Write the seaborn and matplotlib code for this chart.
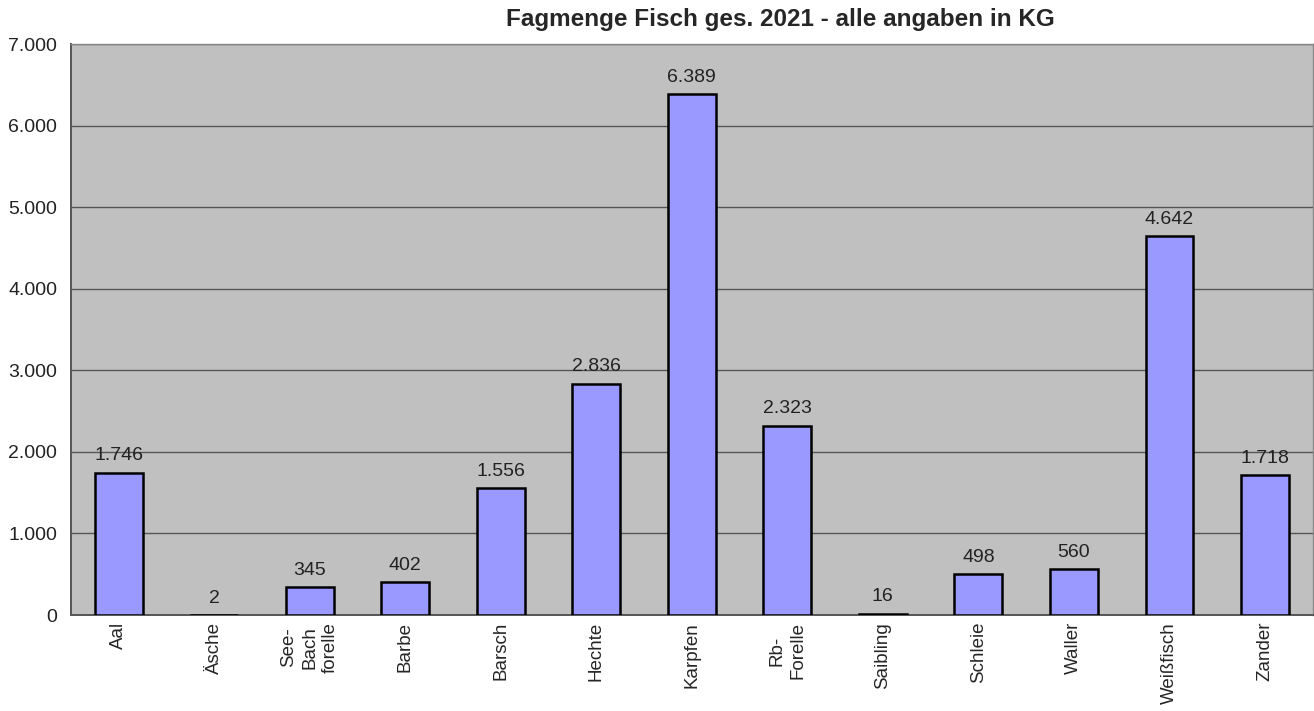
import pandas as pd
import seaborn as sns
from matplotlib import pyplot as plt
from matplotlib.ticker import FuncFormatter, FixedLocator

fish = ['Aal', 'Äsche', 'See-\nBach\nforelle', 'Barbe', 'Barsch', 'Hechte', 'Karpfen',
        'Rb-\nForelle', 'Saibling', 'Schleie', 'Waller', 'Weißfisch', 'Zander']
kg = [1746, 2, 345, 402, 1556, 2836, 6389, 2323, 16, 498, 560, 4642, 1718]
yticks = [0, 1000, 2000, 3000, 4000, 5000, 6000, 7000]

def de_fmt(v):
	return f'{int(round(v)):,}'.replace(',', '.')

df = pd.DataFrame({'fish': fish, 'kg': kg})

sns.set_style('white')
plt.rcParams['font.family'] = ['Liberation Sans', 'DejaVu Sans']

fig = plt.figure(figsize=(13.14, 7.11), dpi=100)
ax = fig.add_axes([0.054, 0.135, 0.945, 0.803])
ax.set_facecolor('#C0C0C0')

sns.barplot(data=df, x='fish', y='kg', ax=ax, color='#9999FF', saturation=1,
            width=0.5, edgecolor='black', linewidth=1.8, zorder=3)

ax.set_xlim(-0.5, len(fish) - 0.5)
ax.set_ylim(0, 7000)
ax.set_yticks(yticks)
ax.yaxis.set_major_formatter(FuncFormatter(lambda v, p: de_fmt(v)))
ax.grid(axis='y', color='#555555', linewidth=1.0, zorder=0)
ax.set_axisbelow(True)

# category labels centred, tick marks between categories
ax.set_xticks(range(len(fish)))
ax.set_xticklabels(fish, rotation=90, fontsize=13.5)
ax.tick_params(axis='x', which='major', length=0, pad=5)
ax.xaxis.set_minor_locator(FixedLocator([i - 0.5 for i in range(len(fish) + 1)]))
ax.tick_params(axis='x', which='minor', length=6, width=1.2, color='#555555', direction='out')
ax.tick_params(axis='y', length=6, width=1.2, color='#555555', direction='out', labelsize=14, pad=4)
for lab in ax.get_xticklabels():
	lab.set_verticalalignment('top')
	lab.set_linespacing(1.3)
	lab.set_multialignment('center')
for lab in ax.get_yticklabels():
	lab.set_color('#222222')

ax.set_xlabel('')
ax.set_ylabel('')

for s in ['left', 'bottom']:
	ax.spines[s].set_color('#555555')
	ax.spines[s].set_linewidth(1.4)
for s in ['top', 'right']:
	ax.spines[s].set_color('#888888')
	ax.spines[s].set_linewidth(1.0)

for i, v in enumerate(kg):
	ax.annotate(de_fmt(v), (i, v), xytext=(0, 6), textcoords='offset points',
	            ha='center', va='bottom', fontsize=14, color='#222222')

fig.text(0.594, 0.972, 'Fagmenge Fisch ges. 2021 - alle angaben in KG',
         ha='center', va='center', fontsize=17.5, fontweight='bold')

fig.savefig('out.png', dpi=100)
